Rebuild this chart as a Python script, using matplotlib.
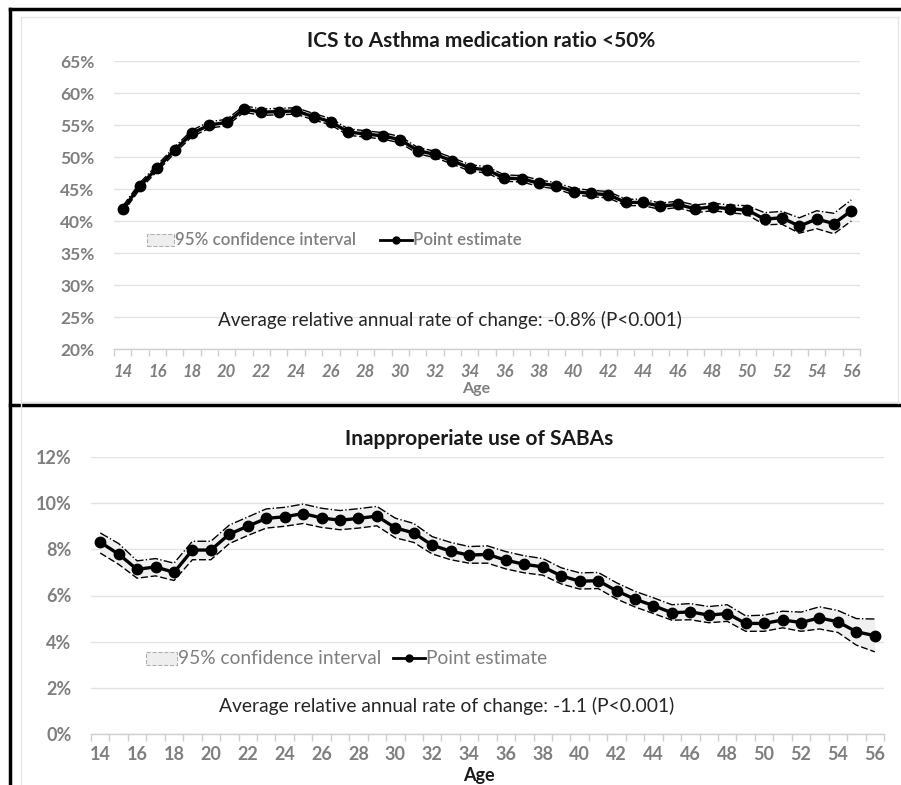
import matplotlib
matplotlib.use("Agg")
import matplotlib.pyplot as plt
from matplotlib.lines import Line2D
from matplotlib.patches import Rectangle
import numpy as np

plt.rcParams['font.family'] = ['Lato', 'DejaVu Sans']

ages = list(range(14, 57))
tick_labels = [str(a) for a in range(14, 57, 2)]

top_title = "ICS to Asthma medication ratio <50%"
top_est = [41.8, 45.5, 48.3, 51.1, 53.7, 55.0, 55.4, 57.5, 57.0, 57.1, 57.2, 56.3, 55.5, 53.9,
           53.6, 53.3, 52.7, 51.0, 50.4, 49.4, 48.3, 48.0, 46.7, 46.6, 45.9, 45.5, 44.6, 44.3,
           44.1, 42.9, 42.9, 42.3, 42.6, 41.9, 42.2, 41.9, 41.7, 40.3, 40.5, 39.2, 40.3, 39.6, 41.6]
top_upper = [42.3, 46.0, 48.8, 51.6, 54.2, 55.5, 55.9, 58.0, 57.5, 57.6, 57.7, 56.8, 56.0, 54.4,
             54.1, 53.8, 53.2, 51.5, 50.9, 49.9, 48.8, 48.5, 47.2, 47.1, 46.4, 46.0, 45.1, 44.8,
             44.6, 43.4, 43.4, 42.8, 43.1, 42.5, 42.8, 42.5, 42.4, 41.3, 41.5, 40.5, 41.6, 41.2, 43.3]
top_lower = [41.3, 45.0, 47.8, 50.6, 53.2, 54.5, 54.9, 57.0, 56.5, 56.6, 56.7, 55.8, 55.0, 53.4,
             53.1, 52.8, 52.2, 50.5, 49.9, 48.9, 47.8, 47.5, 46.2, 46.1, 45.4, 45.0, 44.1, 43.8,
             43.6, 42.4, 42.4, 41.8, 42.1, 41.3, 41.6, 41.3, 41.0, 39.4, 39.5, 38.1, 38.8, 38.0, 40.0]
top_yticks = [20, 25, 30, 35, 40, 45, 50, 55, 60, 65]
top_note = "Average relative annual rate of change: -0.8% (P<0.001)"

bot_title = "Inapproperiate use of SABAs"
bot_est = [8.31, 7.79, 7.13, 7.24, 7.0, 7.97, 7.97, 8.66, 9.0, 9.34, 9.41, 9.55, 9.36, 9.26,
           9.34, 9.44, 8.93, 8.71, 8.18, 7.92, 7.75, 7.78, 7.53, 7.35, 7.24, 6.85, 6.62, 6.64,
           6.20, 5.84, 5.56, 5.25, 5.29, 5.15, 5.22, 4.79, 4.79, 4.94, 4.83, 5.03, 4.86, 4.43, 4.26]
bot_upper = [8.71, 8.25, 7.5, 7.6, 7.4, 8.35, 8.35, 9.05, 9.4, 9.75, 9.82, 9.96, 9.78, 9.68,
             9.76, 9.86, 9.35, 9.12, 8.55, 8.3, 8.12, 8.15, 7.9, 7.72, 7.6, 7.2, 6.98, 7.0,
             6.55, 6.18, 5.9, 5.6, 5.65, 5.52, 5.6, 5.12, 5.15, 5.32, 5.28, 5.51, 5.35, 5.0, 4.98]
bot_lower = [7.84, 7.35, 6.75, 6.85, 6.65, 7.55, 7.55, 8.25, 8.6, 8.92, 9.0, 9.12, 8.95, 8.85,
             8.92, 9.02, 8.5, 8.3, 7.8, 7.55, 7.4, 7.4, 7.15, 6.98, 6.88, 6.5, 6.28, 6.3,
             5.85, 5.5, 5.22, 4.93, 4.95, 4.82, 4.88, 4.45, 4.45, 4.6, 4.45, 4.55, 4.4, 3.85, 3.56]
bot_yticks = [0, 2, 4, 6, 8, 10, 12]
bot_note = "Average relative annual rate of change: -1.1 (P<0.001)"

legend_ci = "95% confidence interval"
legend_pt = "Point estimate"

W, H = 901, 785
fig = plt.figure(figsize=(W / 100, H / 100), dpi=100)
fig.patch.set_facecolor('white')

def fx(px):
    return px / W

def fy(py):
    return 1 - py / H

GRID = '#e3e3e3'
TICKC = '#7f7f7f'

def draw_panel(ax, est, lo, hi, yticks, italic, ytick_fs, xtick_fs, xpad):
    x = np.array(ages)
    ax.fill_between(x, lo, hi, color='#f0f0f0', zorder=1, linewidth=0)
    ax.plot(x, hi, color='black', lw=1.0, ls='-.', zorder=2)
    ax.plot(x, lo, color='black', lw=1.0, ls=(0, (5, 2)), zorder=2)
    ax.plot(x, est, color='black', lw=2.4, marker='o', ms=7.5, zorder=3)
    ax.set_xlim(13.5, 56.5)
    ax.set_ylim(yticks[0], yticks[-1])
    ax.set_yticks(yticks)
    ax.set_yticklabels([f"{v}%" for v in yticks], color=TICKC, fontsize=ytick_fs,
                       fontweight='bold')
    ax.set_xticks(list(range(14, 57, 2)))
    ax.set_xticklabels(tick_labels, color=TICKC, fontsize=xtick_fs, fontweight='bold',
                       fontstyle='italic' if italic else 'normal')
    ax.set_xticks(np.arange(13.5, 57, 1), minor=True)
    ax.tick_params(axis='x', which='major', length=0, pad=xpad)
    ax.tick_params(axis='x', which='minor', length=5, color='#d0d0d0', width=1)
    ax.tick_params(axis='y', length=0, pad=14)
    ax.grid(axis='y', color=GRID, lw=1)
    ax.set_axisbelow(True)
    for s in ['top', 'right', 'left']:
        ax.spines[s].set_visible(False)
    ax.spines['bottom'].set_color('#d0d0d0')
    ax.spines['bottom'].set_linewidth(1)
    ax.set_facecolor('none')

def manual_legend(yc, px0, px1, ln0, ln1, fs, weight, ph):
    # CI patch swatch
    fig.add_artist(Rectangle((fx(px0), fy(yc + ph / 2)), fx(px1) - fx(px0), (ph) / H,
                             facecolor='#eeeeee', edgecolor='#b0b0b0', linestyle='--',
                             linewidth=0.8))
    fig.text(fx(px1 + 1), fy(yc), legend_ci, ha='left', va='center', fontsize=fs,
             color=TICKC, fontweight=weight)
    fig.add_artist(Line2D([fx(ln0), fx(ln1)], [fy(yc), fy(yc)], color='black', lw=2))
    fig.add_artist(Line2D([fx((ln0 + ln1) / 2)], [fy(yc)], color='black', marker='o', ms=5))
    fig.text(fx(ln1 + 1), fy(yc), legend_pt, ha='left', va='center', fontsize=fs,
             color=TICKC, fontweight=weight)

# Top panel
ax1 = fig.add_axes([fx(114), fy(349), fx(860) - fx(114), fy(61) - fy(349)])
draw_panel(ax1, top_est, top_lower, top_upper, top_yticks, True, 12.5, 12, 11)
manual_legend(240, 147, 174, 380, 412, 12.2, 'semibold', 12)
fig.text(fx(481), fy(41), top_title, ha='center', va='center', fontsize=15,
         fontweight='bold', color='#1a1a1a')
fig.text(fx(450), fy(320), top_note, ha='center', va='center', fontsize=13.6, color='#262626')
fig.text(fx(476), fy(389), "Age", ha='center', va='center', fontsize=11.5,
         fontweight='bold', color=TICKC)

# Bottom panel
ax2 = fig.add_axes([fx(91), fy(734), fx(884) - fx(91), fy(457) - fy(734)])
draw_panel(ax2, bot_est, bot_lower, bot_upper, bot_yticks, False, 13, 13, 9)
manual_legend(658, 146, 177, 393, 425, 13.8, 'normal', 13)
fig.text(fx(479), fy(439), bot_title, ha='center', va='center', fontsize=15,
         fontweight='bold', color='#1a1a1a')
fig.text(fx(447), fy(706), bot_note, ha='center', va='center', fontsize=13.9, color='#262626')
fig.text(fx(479), fy(775), "Age", ha='center', va='center', fontsize=13,
         fontweight='bold', color='#1a1a1a')

# frame lines
fig.add_artist(Line2D([fx(10), fx(10)], [fy(9), fy(785)], color='black', lw=2.5))
fig.add_artist(Line2D([fx(10), fx(901)], [fy(9), fy(9)], color='black', lw=2.5))
fig.add_artist(Line2D([fx(10), fx(901)], [fy(405), fy(405)], color='black', lw=2.5))
fig.add_artist(Line2D([fx(21), fx(21)], [fy(17), fy(785)], color='#e6e6e6', lw=1))
fig.add_artist(Line2D([fx(21), fx(899)], [fy(17), fy(17)], color='#e6e6e6', lw=1))
fig.add_artist(Line2D([fx(898), fx(898)], [fy(17), fy(403)], color='#e6e6e6', lw=1))
fig.add_artist(Line2D([fx(21), fx(899)], [fy(402), fy(402)], color='#e6e6e6', lw=1))

fig.savefig("out.png", dpi=100)
